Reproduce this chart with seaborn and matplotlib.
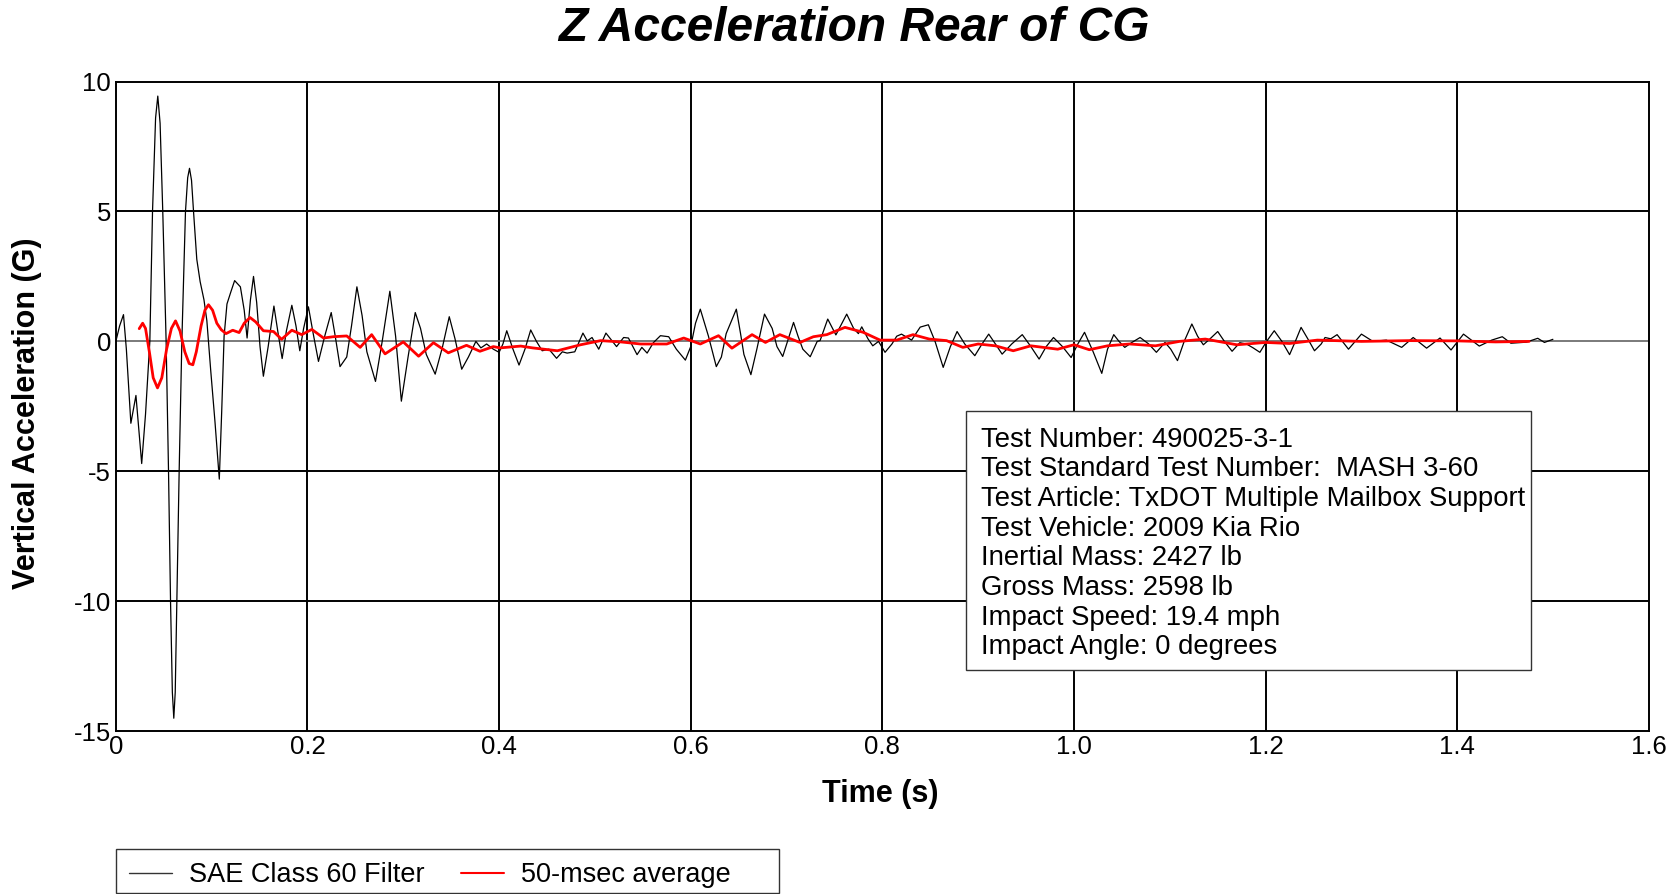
import numpy as np
import pandas as pd
import matplotlib
matplotlib.use("Agg")
import matplotlib.pyplot as plt
from matplotlib.patches import Rectangle
from matplotlib.lines import Line2D
from matplotlib.ticker import MultipleLocator
import seaborn as sns

# SAE Class 60 filtered vertical acceleration (time in s, acceleration in G)
filt_time = [
    0.000, 0.004, 0.008, 0.011, 0.0157, 0.021, 0.027, 0.031, 0.0355, 0.0383,
    0.0415, 0.0438, 0.0462, 0.0490, 0.0525, 0.0550, 0.0571, 0.0590, 0.0605, 0.0620,
    0.0637, 0.0661, 0.0689, 0.0727, 0.0750, 0.0769, 0.0790, 0.0811, 0.0845, 0.088,
    0.092, 0.095, 0.099, 0.1035, 0.108, 0.1105, 0.113, 0.116, 0.120, 0.124,
    0.130, 0.134, 0.137, 0.1405, 0.1437, 0.147, 0.1505, 0.154, 0.159, 0.165,
    0.169, 0.1736, 0.178, 0.1837, 0.188, 0.192, 0.196, 0.201, 0.206, 0.2115,
    0.218, 0.2248, 0.229, 0.234, 0.241, 0.246, 0.2516, 0.257, 0.262, 0.271,
    0.278, 0.286, 0.292, 0.298, 0.305, 0.3125, 0.318, 0.324, 0.3333, 0.341,
    0.348, 0.354, 0.361, 0.368, 0.3758, 0.381, 0.387, 0.394, 0.400, 0.404,
    0.408, 0.4145, 0.4208, 0.427, 0.433, 0.439, 0.445, 0.452, 0.460, 0.466,
    0.471, 0.479, 0.4875, 0.492, 0.497, 0.504, 0.5115, 0.5226, 0.530, 0.535,
    0.544, 0.549, 0.5545, 0.561, 0.5684, 0.577, 0.585, 0.5944, 0.600, 0.605,
    0.610, 0.6185, 0.6267, 0.632, 0.637, 0.6476, 0.652, 0.6555, 0.6628, 0.669,
    0.677, 0.685, 0.690, 0.696, 0.701, 0.7073, 0.712, 0.717, 0.7247, 0.732,
    0.735, 0.743, 0.7515, 0.7628, 0.770, 0.775, 0.7785, 0.785, 0.790, 0.796,
    0.8028, 0.810, 0.815, 0.820, 0.826, 0.8305, 0.8395, 0.848, 0.855, 0.8635,
    0.871, 0.878, 0.886, 0.8965, 0.904, 0.911, 0.918, 0.925, 0.935, 0.946,
    0.955, 0.9636, 0.971, 0.9786, 0.988, 0.997, 1.004, 1.011, 1.020, 1.029,
    1.035, 1.0415, 1.047, 1.053, 1.060, 1.069, 1.078, 1.086, 1.095, 1.101,
    1.108, 1.115, 1.123, 1.129, 1.135, 1.142, 1.150, 1.157, 1.165, 1.173,
    1.180, 1.187, 1.194, 1.201, 1.209, 1.217, 1.225, 1.231, 1.237, 1.244,
    1.251, 1.258, 1.262, 1.268, 1.2746, 1.2865, 1.300, 1.312, 1.326, 1.342,
    1.354, 1.368, 1.382, 1.3935, 1.4065, 1.423, 1.436, 1.447, 1.456, 1.472,
    1.484, 1.491, 1.4998,
]
filt_accel = [
    0.0, 0.6, 1.03, -0.3, -3.15, -2.08, -4.7, -2.8, 0.0, 5.0,
    8.6, 9.44, 8.4, 5.0, 0.0, -5.0, -10.0, -13.5, -14.5, -13.5,
    -10.0, -5.0, 0.0, 5.0, 6.3, 6.66, 6.2, 5.0, 3.16, 2.3,
    1.6, 0.8, -1.1, -3.1, -5.3, -2.7, 0.2, 1.44, 1.9, 2.34,
    2.1, 1.2, 0.13, 1.6, 2.5, 1.5, -0.2, -1.34, -0.2, 1.36,
    0.4, -0.66, 0.4, 1.39, 0.6, -0.36, 0.5, 1.33, 0.3, -0.77,
    0.2, 1.11, 0.2, -0.97, -0.6, 0.6, 2.1, 1.0, -0.4, -1.54,
    0.0, 1.93, 0.2, -2.3, -0.6, 1.11, 0.5, -0.5, -1.26, -0.2,
    0.95, 0.1, -1.07, -0.6, 0.0, -0.25, -0.1, -0.3, -0.42, -0.1,
    0.41, -0.3, -0.91, -0.3, 0.44, 0.0, -0.36, -0.3, -0.65, -0.4,
    -0.45, -0.4, 0.32, 0.02, 0.15, -0.3, 0.32, -0.2, 0.15, 0.13,
    -0.51, -0.23, -0.45, -0.05, 0.22, 0.18, -0.3, -0.72, -0.2, 0.7,
    1.24, 0.2, -0.97, -0.6, 0.3, 1.24, 0.3, -0.5, -1.28, -0.3,
    1.05, 0.5, -0.2, -0.58, 0.0, 0.73, 0.2, -0.3, -0.59, 0.0,
    0.03, 0.86, 0.25, 1.05, 0.5, 0.3, 0.56, 0.1, -0.17, 0.0,
    -0.42, -0.1, 0.2, 0.28, 0.15, 0.05, 0.55, 0.64, 0.0, -1.0,
    -0.2, 0.38, -0.1, -0.55, -0.1, 0.28, -0.1, -0.49, -0.1, 0.26,
    -0.2, -0.68, -0.2, 0.15, -0.2, -0.62, -0.1, 0.35, -0.4, -1.23,
    -0.3, 0.26, 0.0, -0.23, -0.05, 0.15, -0.1, -0.42, -0.04, -0.3,
    -0.74, 0.0, 0.67, 0.2, -0.13, 0.1, 0.38, 0.0, -0.38, -0.05,
    -0.1, -0.25, -0.42, 0.0, 0.41, 0.0, -0.51, 0.0, 0.54, 0.1,
    -0.36, -0.1, 0.15, 0.1, 0.26, -0.3, 0.28, 0.0, 0.05, -0.23,
    0.15, -0.26, 0.13, -0.33, 0.28, -0.18, 0.05, 0.18, -0.07, -0.03,
    0.12, -0.04, 0.08,
]

# 50-msec moving average of the same channel
avg_time = [
    0.0244, 0.028, 0.031, 0.035, 0.039, 0.0435, 0.048, 0.053, 0.058, 0.0623,
    0.067, 0.072, 0.0765, 0.0804, 0.084, 0.089, 0.093, 0.0967, 0.101, 0.1054,
    0.110, 0.115, 0.122, 0.1287, 0.134, 0.140, 0.146, 0.154, 0.1646, 0.173,
    0.1837, 0.194, 0.2046, 0.2168, 0.227, 0.241, 0.255, 0.267, 0.281, 0.300,
    0.316, 0.3315, 0.347, 0.366, 0.380, 0.394, 0.401, 0.4226, 0.435, 0.4608,
    0.485, 0.506, 0.527, 0.5476, 0.575, 0.5927, 0.610, 0.629, 0.643, 0.664,
    0.678, 0.693, 0.714, 0.728, 0.742, 0.761, 0.780, 0.7976, 0.815, 0.832,
    0.849, 0.867, 0.884, 0.900, 0.918, 0.9366, 0.955, 0.983, 1.000, 1.016,
    1.035, 1.058, 1.085, 1.110, 1.137, 1.170, 1.200, 1.225, 1.254, 1.300,
    1.350, 1.400, 1.440, 1.475,
]
avg_accel = [
    0.49, 0.7, 0.5, -0.4, -1.4, -1.79, -1.4, -0.3, 0.5, 0.79,
    0.4, -0.4, -0.85, -0.9, -0.4, 0.6, 1.2, 1.41, 1.2, 0.7,
    0.45, 0.3, 0.43, 0.34, 0.7, 0.92, 0.75, 0.41, 0.38, 0.08,
    0.43, 0.26, 0.46, 0.13, 0.18, 0.21, -0.23, 0.26, -0.48, -0.02,
    -0.57, -0.05, -0.44, -0.15, -0.38, -0.2, -0.25, -0.18, -0.25, -0.36,
    -0.13, 0.03, -0.02, -0.1, -0.1, 0.13, -0.1, 0.22, -0.26, 0.26,
    -0.04, 0.26, -0.04, 0.18, 0.26, 0.54, 0.35, 0.05, 0.05, 0.26,
    0.09, 0.03, -0.23, -0.1, -0.17, -0.36, -0.17, -0.3, -0.13, -0.32,
    -0.17, -0.1, -0.17, 0.0, 0.09, -0.13, -0.04, -0.08, 0.05, 0.0,
    0.03, 0.02, -0.02, 0.0,
]

x_ticks = [0, 0.2, 0.4, 0.6, 0.8, 1.0, 1.2, 1.4, 1.6]
x_tick_labels = ["0", "0.2", "0.4", "0.6", "0.8", "1.0", "1.2", "1.4", "1.6"]
y_ticks = [-15, -10, -5, 0, 5, 10]
y_tick_labels = ["-15", "-10", "-5", "0", "5", "10"]

info_lines = [
    "Test Number: 490025-3-1",
    "Test Standard Test Number:  MASH 3-60",
    "Test Article: TxDOT Multiple Mailbox Support",
    "Test Vehicle: 2009 Kia Rio",
    "Inertial Mass: 2427 lb",
    "Gross Mass: 2598 lb",
    "Impact Speed: 19.4 mph",
    "Impact Angle: 0 degrees",
]

sns.set_style("white")
plt.rcParams["font.family"] = ["Liberation Sans", "DejaVu Sans"]
plt.rcParams["axes.unicode_minus"] = False
for key in ["text.color", "axes.labelcolor", "xtick.color", "ytick.color"]:
    plt.rcParams[key] = "black"

W, H = 1681, 894
fig = plt.figure(figsize=(W / 100, H / 100), dpi=100)
ax = fig.add_axes([0.0689, 0.1821, 0.9120, 0.7267])

filt_df = pd.DataFrame({"t": filt_time, "g": filt_accel})
avg_df = pd.DataFrame({"t": avg_time, "g": avg_accel})

# grid first, then traces on top
for xv in x_ticks[1:-1]:
    ax.axvline(xv, color="black", lw=1.4, zorder=1)
for yv in y_ticks[1:-1]:
    if yv == 0:
        ax.axhline(yv, color="#707070", lw=1.3, zorder=1)
    else:
        ax.axhline(yv, color="black", lw=1.4, zorder=1)

sns.lineplot(data=filt_df, x="t", y="g", ax=ax, color="black", lw=0.9,
             sort=False, estimator=None, zorder=3)
sns.lineplot(data=avg_df, x="t", y="g", ax=ax, color="#ff0000", lw=2.0,
             sort=False, estimator=None, zorder=4)

ax.set_xlim(0, 1.6)
ax.set_ylim(-15, 10)
ax.set_xticks(x_ticks)
ax.set_xticklabels(x_tick_labels)
ax.set_yticks(y_ticks)
ax.set_yticklabels(y_tick_labels)
ax.xaxis.set_minor_locator(MultipleLocator(0.04))
ax.yaxis.set_minor_locator(MultipleLocator(1))
ax.tick_params(axis="both", which="major", labelsize=18.5, length=5,
               width=1.3, color="black", pad=1, direction="inout")
ax.tick_params(axis="x", which="minor", length=5, width=1.2, direction="in")
ax.tick_params(axis="y", which="minor", length=6, width=1.2, direction="inout")
ax.tick_params(axis="x", which="major", pad=0)
for side in ["left", "bottom", "top", "right"]:
    ax.spines[side].set_color("black")
    ax.spines[side].set_linewidth(1.4)
ax.set_xlabel("")
ax.set_ylabel("")

fig.text(0.5237, 0.112, "Time (s)", ha="center", va="center",
         fontsize=22, fontweight="bold")
fig.text(0.016, 0.538, "Vertical Acceleration (G)", ha="center", va="center",
         rotation=90, fontsize=22, fontweight="bold")
fig.text(0.508, 0.968, "Z Acceleration Rear of CG", ha="center", va="center",
         fontsize=34.5, fontweight="bold", fontstyle="italic")

# test information box
ax.add_patch(Rectangle((0.5546, 0.0942), 0.3686, 0.3986, transform=ax.transAxes,
                       facecolor="white", edgecolor="#333333", lw=1.0, zorder=6))
top_y = 1 - 439.6 / H
step = 29.7 / H
for i, line in enumerate(info_lines):
    fig.text(981 / W, top_y - i * step, line, ha="left", va="center",
             fontsize=19.8, zorder=7)

# legend strip below the plot
fig.patches.append(Rectangle((116 / W, 1 - 893 / H), (779 - 116) / W, (893 - 849) / H,
                             transform=fig.transFigure, facecolor="white",
                             edgecolor="#333333", lw=1.0))
handles = [Line2D([], [], color="#333333", lw=1.0),
           Line2D([], [], color="#ff0000", lw=1.5)]
fig.legend(handles, ["SAE Class 60 Filter", "50-msec average"],
           loc="center left", bbox_to_anchor=(129 / W, 1 - 875 / H),
           ncol=2, frameon=False, fontsize=19.5,
           handlelength=1.57, handletextpad=0.66, columnspacing=1.33,
           borderpad=0.0, borderaxespad=0)

fig.savefig("out.png", dpi=100, facecolor="white")
